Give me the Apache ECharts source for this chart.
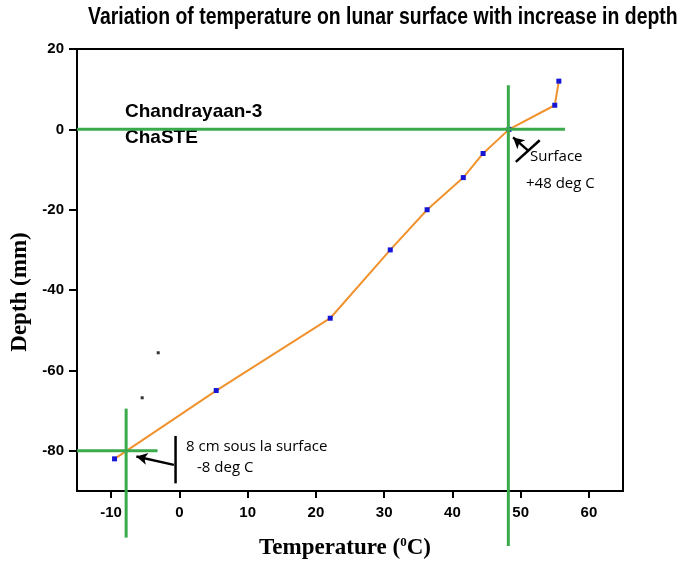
<!DOCTYPE html>
<html><head><meta charset="utf-8">
<script src="https://cdn.jsdelivr.net/npm/echarts@6/dist/echarts.min.js"></script>
<style>html,body{margin:0;padding:0;background:#fff}#c{width:687px;height:572px}</style>
</head><body><div id="c"></div>
<script>
// ChaSTE probe readings: temperature (°C) vs depth (mm)
const temps  = [-9.5, 5.4, 22.1, 30.9, 36.3, 41.6, 44.5, 48.3, 55.0, 55.6];
const depths = [-82, -65, -47, -30, -20, -12, -6, 0, 6, 12];
const xTicks = [-10, 0, 10, 20, 30, 40, 50, 60];
const yTicks = [20, 0, -20, -40, -60, -80];
// guide lines (green)
const surfaceH = [[-15, 0], [56.5, 0]];
const surfaceV = [[48.2, 11], [48.2, -103.7]];
const deepH = [[-15, -80], [-3.2, -80]];
const deepV = [[-7.8, -69.5], [-7.8, -101.6]];
// annotation strokes (black)
const surfaceCross = [[49.3, -8.1], [52.8, -2.7]];
const deepBar = [[-0.56, -76.3], [-0.56, -88.1]];
const surfaceArrow = [[51.1, -5.3], [48.9, -2.0]];
const deepArrow = [[-0.8, -83.5], [-6.3, -81.4]];
const strayDots = [[-3.1, -55.6], [-5.45, -66.8]];

const chart = echarts.init(document.getElementById('c'));
const green = '#3aaa4c';
function guide(name, d, color, w) {
  return { name, type: 'line', data: d, symbol: 'none', clip: false, silent: true, z: 5,
    lineStyle: { color, width: w } };
}
chart.setOption({
  animation: false,
  grid: { left: 77, right: 64, top: 49, bottom: 81, show: true, borderColor: '#000', borderWidth: 2 },
  xAxis: {
    type: 'value', min: -15, max: 65,
    name: 'Temperature ({s|0}C)', nameLocation: 'middle', nameGap: 45,
    nameTextStyle: { fontFamily: 'Liberation Serif, Times New Roman', fontWeight: 'bold', fontSize: 23, color: '#000',
      padding: [0, 10, 0, 0],
      rich: { s: { fontFamily: 'Liberation Serif', fontWeight: 'bold', fontSize: 13, verticalAlign: 'top', padding: [0, 0, 11, 0] } } },
    axisLine: { onZero: false, lineStyle: { color: '#000', width: 2 } },
    axisTick: { customValues: xTicks, length: 7, lineStyle: { color: '#000', width: 2 } },
    axisLabel: { customValues: xTicks, margin: 14, color: '#000', fontFamily: 'Liberation Sans, Arial', fontWeight: 'bold', fontSize: 15 },
    splitLine: { show: false }
  },
  yAxis: {
    type: 'value', min: -90, max: 20,
    name: 'Depth (mm)', nameLocation: 'middle', nameGap: 45,
    nameTextStyle: { fontFamily: 'Liberation Serif, Times New Roman', fontWeight: 'bold', fontSize: 23, color: '#000', padding: [0, 44, 0, 0] },
    axisLine: { onZero: false, lineStyle: { color: '#000', width: 2 } },
    axisTick: { customValues: yTicks, length: 8, lineStyle: { color: '#000', width: 2 } },
    axisLabel: { customValues: yTicks, margin: 13, color: '#000', fontFamily: 'Liberation Sans, Arial', fontWeight: 'bold', fontSize: 15 },
    splitLine: { show: false }
  },
  series: [
    { name: 'ChaSTE', type: 'line', data: temps.map((t, i) => [t, depths[i]]), z: 3,
      symbol: 'rect', symbolSize: 5, itemStyle: { color: '#1515d6' },
      lineStyle: { color: '#f0922e', width: 2 } },
    guide('surfaceH', surfaceH, green, 3),
    guide('surfaceV', surfaceV, green, 3),
    guide('deepH', deepH, green, 3),
    guide('deepV', deepV, green, 3),
    guide('deepBar', deepBar, '#000', 2.5),
    Object.assign(guide('surfaceCross', surfaceCross, '#000', 2.5), {
      markLine: { silent: true, symbol: ['none', 'arrow'], symbolSize: [9, 11],
        label: { show: false }, lineStyle: { color: '#000', width: 2.5, type: 'solid' },
        data: [
          [{ coord: surfaceArrow[0] }, { coord: surfaceArrow[1] }],
          [{ coord: deepArrow[0] }, { coord: deepArrow[1] }]
        ] } }),
    { name: 'dots', type: 'scatter', data: strayDots, symbol: 'rect', symbolSize: 3, itemStyle: { color: '#000' }, silent: true }
  ],
  graphic: [
    { type: 'text', x: 88, y: 18, scaleX: 0.845, originX: 0, originY: 0,
      style: { text: 'Variation of temperature on lunar surface with increase in depth', font: 'bold 23px "Liberation Sans", Arial', fill: '#000', verticalAlign: 'middle' } },
    { type: 'text', x: 125, y: 112, style: { text: 'Chandrayaan-3', font: 'bold 19px "Liberation Sans", Arial', fill: '#000', verticalAlign: 'middle' } },
    { type: 'text', x: 125, y: 138, style: { text: 'ChaSTE', font: 'bold 19px "Liberation Sans", Arial', fill: '#000', verticalAlign: 'middle' } },
    { type: 'text', x: 530, y: 157, style: { text: 'Surface', font: '15px "Open Sans"', fill: '#000', verticalAlign: 'middle' } },
    { type: 'text', x: 526, y: 184, style: { text: '+48 deg C', font: '15px "Open Sans"', fill: '#000', verticalAlign: 'middle' } },
    { type: 'text', x: 186, y: 447, style: { text: '8 cm sous la surface', font: '15px "Open Sans"', fill: '#000', verticalAlign: 'middle' } },
    { type: 'text', x: 197, y: 468, style: { text: '-8 deg C', font: '15px "Open Sans"', fill: '#000', verticalAlign: 'middle' } }
  ]
});
</script></body></html>
